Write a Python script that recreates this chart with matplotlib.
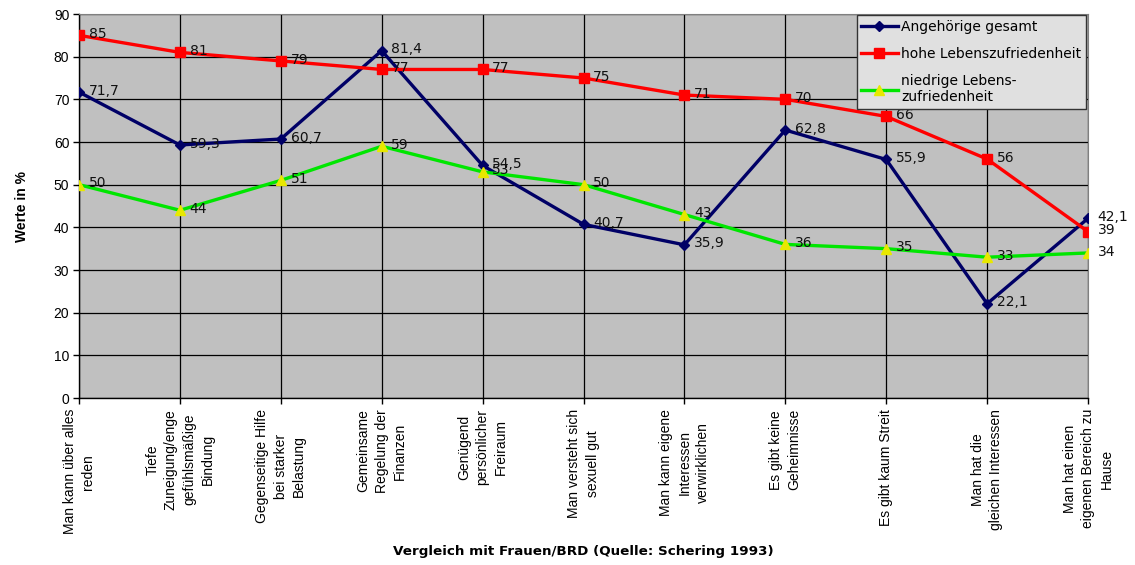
import matplotlib
matplotlib.use("Agg")
import matplotlib.pyplot as plt

plt.rcParams['font.family'] = ['Liberation Sans', 'DejaVu Sans']

categories = [
    "Man kann über alles\nreden",
    "Tiefe\nZuneigung/enge\ngefühlsmäßige\nBindung",
    "Gegenseitige Hilfe\nbei starker\nBelastung",
    "Gemeinsame\nRegelung der\nFinanzen",
    "Genügend\npersönlicher\nFreiraum",
    "Man versteht sich\nsexuell gut",
    "Man kann eigene\nInteressen\nverwirklichen",
    "Es gibt keine\nGeheimnisse",
    "Es gibt kaum Streit",
    "Man hat die\ngleichen Interessen",
    "Man hat einen\neigenen Bereich zu\nHause",
]
gesamt = [71.7, 59.3, 60.7, 81.4, 54.5, 40.7, 35.9, 62.8, 55.9, 22.1, 42.1]
hohe = [85, 81, 79, 77, 77, 75, 71, 70, 66, 56, 39]
niedrige = [50, 44, 51, 59, 53, 50, 43, 36, 35, 33, 34]
series_names = ["Angehörige gesamt", "hohe Lebenszufriedenheit",
                "niedrige Lebens-\nzufriedenheit"]
yticks = list(range(0, 91, 10))

WIDE = ['DejaVu Sans']

fig = plt.figure(figsize=(11.35, 5.65), dpi=100)
ax = fig.add_axes([79/1135, 1-398/565, (1088-79)/1135, (398-14)/565])
ax.set_facecolor('#C0C0C0')

x = list(range(len(categories)))

def fmt(v):
    s = f"{v:g}"
    return s.replace('.', ',')

ax.plot(x, gesamt, color='#000066', lw=2.4, marker='D', ms=5,
        mfc='#000066', mec='#000066', label=series_names[0], zorder=3)
ax.plot(x, hohe, color='#FF0000', lw=2.4, marker='s', ms=6.5,
        mfc='#FF0000', mec='#FF0000', label=series_names[1], zorder=3)
ax.plot(x, niedrige, color='#00E600', lw=2.4, marker='^', ms=7,
        mfc='#E8E800', mec='#E8E800', label=series_names[2], zorder=3)

for series in (gesamt, hohe, niedrige):
    for xi, v in zip(x, series):
        ax.annotate(fmt(v), (xi, v), xytext=(7, 1), textcoords='offset points',
                    ha='left', va='center', fontsize=10, color='#111111',
                    family=WIDE, annotation_clip=False, zorder=4)

ax.set_xlim(0, len(categories) - 1)
ax.set_ylim(0, 90)
ax.set_yticks(yticks)
ax.set_yticklabels([str(t) for t in yticks], fontsize=10)
ax.set_xticks(x)
ax.set_xticklabels(categories, rotation=90, fontsize=10, ha='center',
                   va='top', multialignment='center', linespacing=1.4)
ax.tick_params(axis='both', direction='out', length=4, width=1, color='black')
ax.tick_params(axis='x', pad=4)
ax.tick_params(axis='y', pad=3)

ax.grid(True, color='black', lw=0.9)
ax.set_axisbelow(True)
for side in ('top', 'right'):
    ax.spines[side].set_color('#808080')
for side in ('left', 'bottom'):
    ax.spines[side].set_color('black')
    ax.spines[side].set_linewidth(1)

ax.set_ylabel("Werte in %", fontsize=10, fontweight='bold', labelpad=18)
fig.text((79+1088)/2/1135, 1-551/565,
         "Vergleich mit Frauen/BRD (Quelle: Schering 1993)",
         ha='center', va='center', fontsize=9.7, fontweight='bold', family=WIDE)

leg = ax.legend(loc='upper right', bbox_to_anchor=(1086/1135, 1-15/565),
                bbox_transform=fig.transFigure, frameon=True,
                prop={'family': WIDE, 'size': 10},
                fancybox=False, borderaxespad=0, handlelength=2.6,
                handletextpad=0.25, labelspacing=0.95, borderpad=0.35)
leg.get_frame().set_facecolor('#E0E0E0')
leg.get_frame().set_edgecolor('#333333')
leg.get_frame().set_alpha(1)
leg.get_frame().set_linewidth(1)

fig.savefig("out.png", dpi=100)
